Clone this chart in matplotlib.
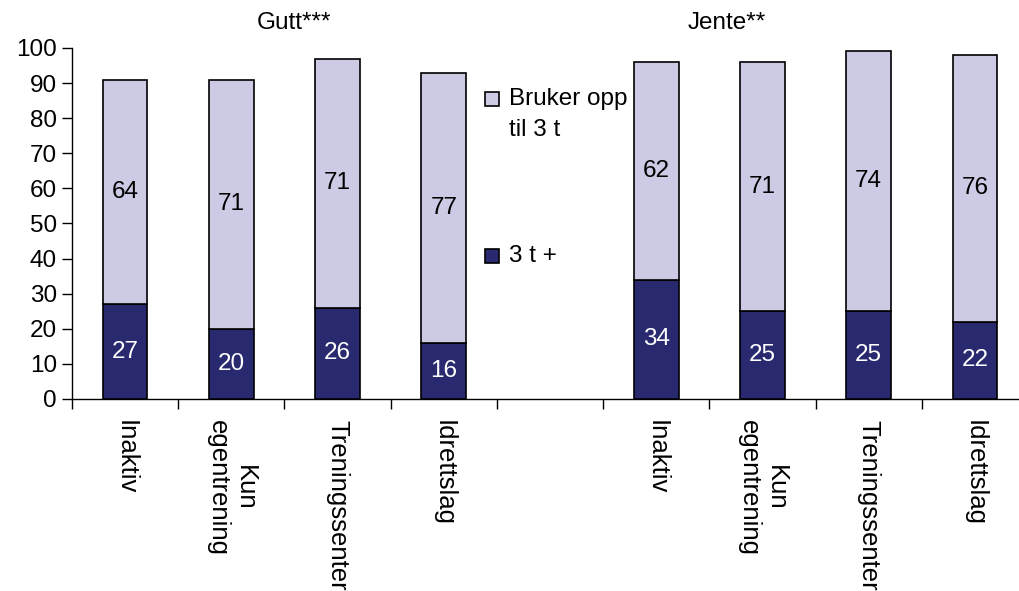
import numpy as np
import matplotlib.pyplot as plt

plt.rcParams['font.family'] = ['Liberation Sans', 'DejaVu Sans']

# data: boys then girls, an empty slot between
groups = ["Gutt***", "Jente**"]
categories = ["Inaktiv", "Kun\negentrening", "Treningssenter", "Idrettslag"]
over_3t = [27, 20, 26, 16, 34, 25, 25, 22]        # "3 t +"
upto_3t = [64, 71, 71, 77, 62, 71, 74, 76]         # "Bruker opp til 3 t"
series_names = ["Bruker opp\ntil 3 t", "3 t +"]

dark = "#29296F"
light = "#CCCAE4"

fig = plt.figure(figsize=(10.19, 5.91), dpi=100)
ax = fig.add_axes([0.0707, 0.3249, 1.0088 - 0.0707, 0.9188 - 0.3249])

# slot 4 stays empty between the groups
x = np.array([0, 1, 2, 3, 5, 6, 7, 8])
w = 0.42

ax.bar(x, over_3t, w, color=dark, edgecolor="black", linewidth=1.2, zorder=3)
ax.bar(x, upto_3t, w, bottom=over_3t, color=light, edgecolor="black", linewidth=1.2, zorder=3)

for xi, b, t in zip(x, over_3t, upto_3t):
    ax.text(xi, b / 2, str(b), ha="center", va="center", color="white", fontsize=17.5, zorder=4)
    ax.text(xi, b + t / 2, str(t), ha="center", va="center", color="black", fontsize=17.5, zorder=4)

ax.set_xlim(-0.5, 8.5)
ax.set_ylim(0, 100)
ax.set_yticks(range(0, 101, 10))
ax.tick_params(axis="y", labelsize=17.5, length=7, width=1, direction="out", pad=4)

# boundary ticks between categories, labels at the bar centres
ax.set_xticks(np.arange(-0.5, 8.6, 1.0))
ax.set_xticklabels([])
ax.tick_params(axis="x", length=7, width=1, direction="out")
for xi, lab in zip(x, categories * 2):
    ax.text(xi, -6.0, lab, rotation=270, ha="center", va="top", multialignment="center",
            fontsize=18.5, clip_on=False)

for s in ["top", "right"]:
    ax.spines[s].set_visible(False)
ax.spines["left"].set_linewidth(1)
ax.spines["bottom"].set_linewidth(1)

# group titles
ax.text(1.59, 107.2, groups[0], ha="center", va="center", fontsize=17.5, clip_on=False)
ax.text(5.66, 107.2, groups[1], ha="center", va="center", fontsize=17.5, clip_on=False)

# legend drawn by hand, spaced like the original
ax.plot([3.45], [85.6], marker="s", markersize=9.5, mfc=light, mec="black", mew=1.2, clip_on=False)
ax.text(3.61, 85.6, "Bruker opp", ha="left", va="center", fontsize=17.5)
ax.text(3.61, 76.6, "til 3 t", ha="left", va="center", fontsize=17.5)
ax.plot([3.45], [40.6], marker="s", markersize=9.5, mfc=dark, mec="black", mew=1.2, clip_on=False)
ax.text(3.61, 40.6, series_names[1], ha="left", va="center", fontsize=17.5)

plt.savefig("out.png", dpi=100)
plt.close()
